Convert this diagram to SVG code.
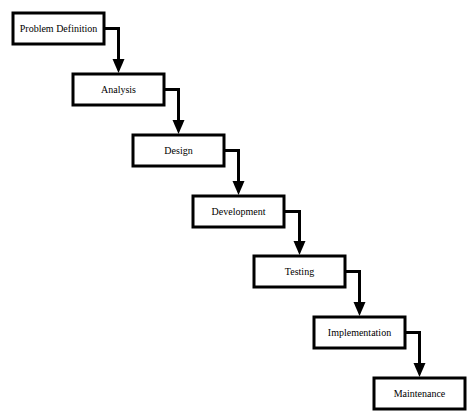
<svg xmlns="http://www.w3.org/2000/svg" width="474" height="420" viewBox="0 0 474 420">
<defs>
<polygon id="head" points="-6,0 6,0 0,14" fill="#000"/>
<style>
.box{fill:#fff;stroke:#000;stroke-width:3}
.lbl{font-family:"Liberation Serif","Times New Roman",serif;font-size:10px;fill:#000;text-anchor:middle}
.con{fill:none;stroke:#000;stroke-width:3}
</style>
</defs>
<rect width="474" height="420" fill="#fff"/>
<g id="connectors">
<path class="con" d="M104.5,28.5 H118.5 V59"/>
<use href="#head" x="118.5" y="59"/>
<path class="con" d="M164.5,89.5 H178.5 V120"/>
<use href="#head" x="178.5" y="120"/>
<path class="con" d="M224.5,150.5 H238.5 V181"/>
<use href="#head" x="238.5" y="181"/>
<path class="con" d="M284.5,211.5 H299.5 V241"/>
<use href="#head" x="299.5" y="241"/>
<path class="con" d="M345.5,271.5 H359.5 V302"/>
<use href="#head" x="359.5" y="302"/>
<path class="con" d="M405.5,332.5 H419.5 V363"/>
<use href="#head" x="419.5" y="363"/>
</g>
<g id="n1"><rect class="box" x="13" y="13" width="91" height="31"/><text class="lbl" x="58.5" y="32">Problem Definition</text></g>
<g id="n2"><rect class="box" x="73" y="74" width="91" height="31"/><text class="lbl" x="118.5" y="93">Analysis</text></g>
<g id="n3"><rect class="box" x="133" y="135" width="91" height="31"/><text class="lbl" x="178.5" y="154">Design</text></g>
<g id="n4"><rect class="box" x="193" y="196" width="91" height="31"/><text class="lbl" x="238.5" y="215">Development</text></g>
<g id="n5"><rect class="box" x="254" y="256" width="91" height="31"/><text class="lbl" x="299.5" y="275">Testing</text></g>
<g id="n6"><rect class="box" x="314" y="317" width="91" height="31"/><text class="lbl" x="359.5" y="336">Implementation</text></g>
<g id="n7"><rect class="box" x="374" y="378" width="91" height="31"/><text class="lbl" x="419.5" y="397">Maintenance</text></g>
</svg>
